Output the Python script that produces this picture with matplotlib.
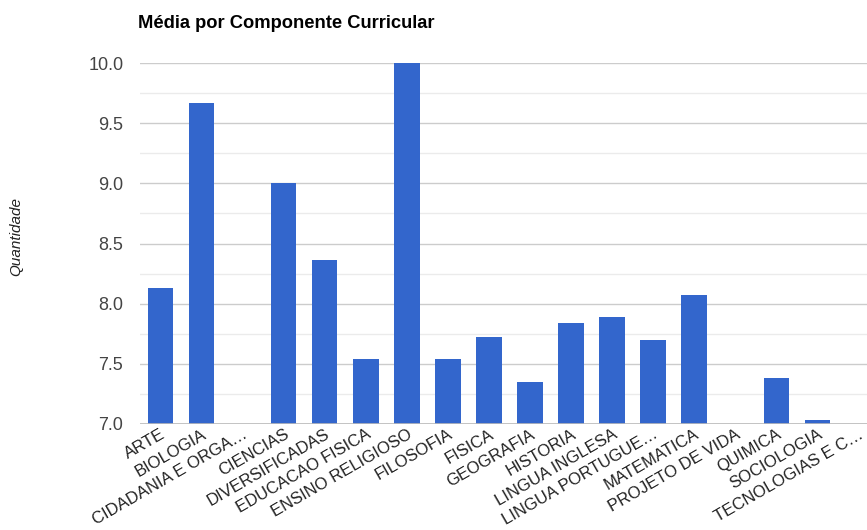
import matplotlib.pyplot as plt
from matplotlib.ticker import MultipleLocator

plt.rcParams['font.family'] = ['Liberation Sans', 'DejaVu Sans']

componentes = [
    "ARTE", "BIOLOGIA", "CIDADANIA E ORGA…", "CIENCIAS", "DIVERSIFICADAS",
    "EDUCACAO FISICA", "ENSINO RELIGIOSO", "FILOSOFIA", "FISICA", "GEOGRAFIA",
    "HISTORIA", "LINGUA INGLESA", "LINGUA PORTUGUE…", "MATEMATICA",
    "PROJETO DE VIDA", "QUIMICA", "SOCIOLOGIA", "TECNOLOGIAS E C…",
]
medias = [8.13, 9.67, 6.5, 9.0, 8.36, 7.54, 10.0, 7.54, 7.72, 7.35,
          7.84, 7.89, 7.70, 8.07, 6.5, 7.38, 7.03, 6.5]

fig = plt.figure(figsize=(8.67, 5.30), dpi=100)
ax = fig.add_axes([140 / 867, 0.2, 727 / 867, 0.681])

x = list(range(len(componentes)))
ax.bar(x, medias, width=0.62, color="#3366cc", zorder=3)

ax.set_ylim(7.0, 10.0)
ax.set_xlim(-0.5, 17.21)
ax.yaxis.set_major_locator(MultipleLocator(0.5))
ax.yaxis.set_minor_locator(MultipleLocator(0.25))
ax.yaxis.set_major_formatter(lambda v, p: f"{v:.1f}")
ax.grid(axis="y", which="major", color="#cccccc", linewidth=1, zorder=0)
ax.grid(axis="y", which="minor", color="#ebebeb", linewidth=1, zorder=0)
ax.axhline(7.0, color="#bbbbbb", linewidth=1.2, zorder=4)

for s in ax.spines.values():
    s.set_visible(False)
ax.tick_params(axis="both", which="both", length=0)
ax.tick_params(axis="y", labelsize=13, labelcolor="#444444", pad=12)

ax.set_xticks(x)
ax.set_xticklabels(componentes, rotation=30, ha="right", rotation_mode="anchor",
                   fontsize=12, color="#222222")
ax.tick_params(axis="x", pad=2)

fig.text(16 / 867, 1 - 237 / 530, "Quantidade", rotation=90, style="italic",
         fontsize=11, color="#222222", ha="center", va="center")
fig.text(138 / 867, 1 - 24 / 530, "Média por Componente Curricular",
         fontsize=13.2, fontweight="bold", color="#000000", ha="left", va="center")

fig.savefig("out.png", dpi=100)
plt.close(fig)
